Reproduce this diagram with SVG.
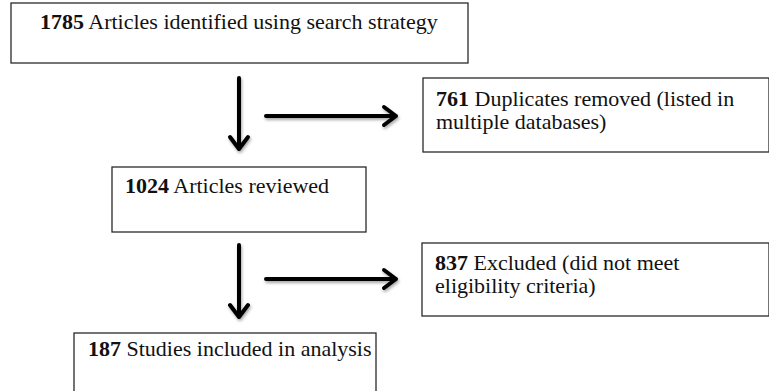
<svg xmlns="http://www.w3.org/2000/svg" width="769" height="391" viewBox="0 0 769 391">
<style>
.box{fill:#ffffff;stroke:#2a2a2a;stroke-width:1.3}
.t{font-family:"Liberation Serif","Times New Roman",serif;font-size:22px;fill:#111}
.b{font-weight:bold}
.arr{fill:none;stroke:#000;stroke-width:4;stroke-linecap:round;stroke-linejoin:round}
</style>
<defs>
<filter id="sh" x="-20%" y="-20%" width="140%" height="140%">
<feDropShadow dx="1" dy="2" stdDeviation="1.5" flood-color="#000" flood-opacity="0.35"/>
</filter>
</defs>
<rect width="769" height="391" fill="#ffffff"/>
<g id="n1">
<rect class="box" x="11" y="3" width="457" height="60"/>
<text class="t" x="40" y="29"><tspan class="b">1785</tspan> Articles identified using search strategy</text>
</g>
<g id="n2">
<rect class="box" x="423" y="78" width="346" height="74"/>
<text class="t" x="436" y="106"><tspan class="b">761</tspan> Duplicates removed (listed in</text>
<text class="t" x="436" y="129">multiple databases)</text>
</g>
<g id="n3">
<rect class="box" x="112" y="167" width="254" height="65"/>
<text class="t" x="125" y="193"><tspan class="b">1024</tspan> Articles reviewed</text>
</g>
<g id="n4">
<rect class="box" x="422" y="243" width="347" height="73"/>
<text class="t" x="435" y="270"><tspan class="b">837</tspan> Excluded (did not meet</text>
<text class="t" x="435" y="293">eligibility criteria)</text>
</g>
<g id="n5">
<rect class="box" x="74" y="333" width="302" height="70"/>
<text class="t" x="88" y="356"><tspan class="b">187</tspan> Studies included in analysis</text>
</g>
<g id="connectors" filter="url(#sh)">
<path class="arr" d="M239 78 L239 149 M230 137 L239 149 L248 137"/>
<path class="arr" d="M266 116 L396 116 M384 107 L396 116 L384 125"/>
<path class="arr" d="M239 245 L239 317 M230 305 L239 317 L248 305"/>
<path class="arr" d="M266 279 L396 279 M384 270 L396 279 L384 288"/>
</g>
</svg>
